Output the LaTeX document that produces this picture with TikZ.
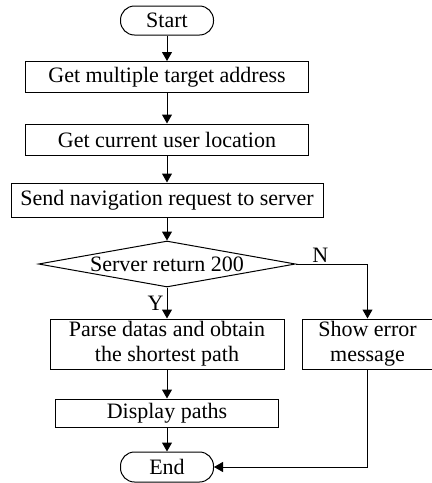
\documentclass[tikz,border=0pt]{standalone}
\usepackage{fontspec}
\setmainfont{Liberation Serif}
\usetikzlibrary{arrows.meta,positioning,shapes.geometric}

\begin{document}
\begin{tikzpicture}[->,>={Triangle[length=9pt,width=10pt]},x=1pt,y=1pt,line width=1pt]
  \tikzset{every node/.style={font=\fontsize{22}{25}\selectfont},
    terminal/.style={draw,rounded corners=14pt,minimum width=93pt,minimum height=29pt,inner sep=0pt},
    process/.style={draw,minimum height=31pt,inner sep=0pt,align=center},
    decision/.style={draw,diamond,aspect=5.4,inner sep=0pt,minimum width=257pt,minimum height=46pt}}

  \useasboundingbox (0,0) rectangle (432,-483);

  \node[terminal]                                   (start)   at (167,-20.5) {Start};
  \node[process,minimum width=283pt]                (target)  at (167,-77)   {Get multiple target address};
  \node[process,minimum width=283pt]                (locate)  at (167,-139.5) {Get current user location};
  \node[process,minimum width=312pt,minimum height=34pt] (request) at (167,-200) {Send navigation request to server};
  \node[decision]                                   (server)  at (167,-264)  {Server return 200};
  \node[process,minimum width=234pt,minimum height=50pt] (parse) at (167,-344) {Parse datas and obtain\\the shortest path};
  \node[process,minimum width=131pt,minimum height=50pt,right=17pt of parse] (error) {Show error\\message};
  \node[process,minimum width=223pt,minimum height=28pt] (display) at (167,-413) {Display paths};
  \node[terminal,minimum height=30pt]               (stop)    at (167,-467)  {End};

  \draw (start) -- (target);
  \draw (target) -- (locate);
  \draw (locate) -- (request);
  \draw (request) -- (server);
  \draw (server) -- node[left,inner sep=3pt] {Y} (parse);
  \draw (server.east) -| node[pos=0.17,above,inner sep=1pt] {N} (error.north);
  \draw (parse) -- (display);
  \draw (display) -- (stop);
  \draw (error.south) |- (stop.east);
\end{tikzpicture}
\end{document}
